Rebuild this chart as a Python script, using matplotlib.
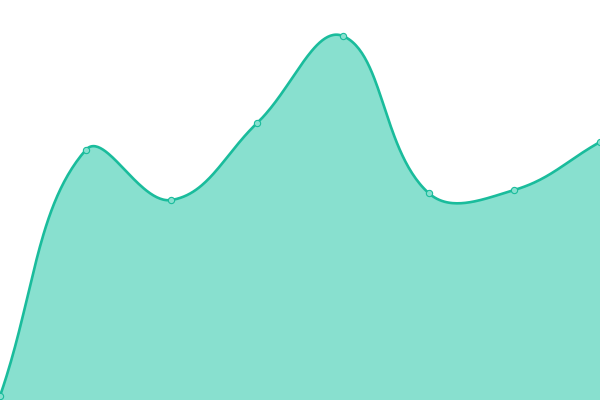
import numpy as np
import matplotlib
matplotlib.use("Agg")
import matplotlib.pyplot as plt

categories = list(range(8))
values = [4, 250, 200, 277, 364, 207, 210, 258]

LINE = "#1abc9c"
FILL = "#88e0cf"
TENSION = 0.4


def spline_display(P, t=TENSION, n=60):
    # Chart.js-style spline, computed in display (pixel) space
    N = len(P)
    prevc = [None] * N
    nextc = [None] * N
    for i in range(N):
        prv = P[i - 1] if i > 0 else P[i]
        cur = P[i]
        nxt = P[i + 1] if i < N - 1 else P[i]
        d01 = np.hypot(*(cur - prv))
        d12 = np.hypot(*(nxt - cur))
        s = d01 + d12
        s01 = d01 / s if s else 0
        s12 = d12 / s if s else 0
        prevc[i] = cur - t * s01 * (nxt - prv)
        nextc[i] = cur + t * s12 * (nxt - prv)
    tt = np.linspace(0, 1, n)[1:, None]
    pts = [P[0][None, :]]
    for i in range(1, N):
        p0, p1, p2, p3 = P[i - 1], nextc[i - 1], prevc[i], P[i]
        b = (1 - tt) ** 3 * p0 + 3 * (1 - tt) ** 2 * tt * p1 + 3 * (1 - tt) * tt ** 2 * p2 + tt ** 3 * p3
        pts.append(b)
    return np.vstack(pts)


fig = plt.figure(figsize=(6, 4), dpi=100)
ax = fig.add_axes([0, 0, 1, 1])
ax.set_xlim(0, 7)
ax.set_ylim(0, 400)
ax.axis("off")

disp = ax.transData.transform(np.column_stack([categories, values]).astype(float))
curve = ax.transData.inverted().transform(spline_display(disp))
sx, sy = curve[:, 0], curve[:, 1]

ax.fill_between(sx, 0, sy, color=FILL, lw=0)
ax.plot(sx, sy, color=LINE, lw=1.9, solid_capstyle="round")
ax.plot(categories, values, "o", ms=4.5, mfc=FILL, mec=LINE, mew=0.8)

fig.savefig("out.png", dpi=100)
